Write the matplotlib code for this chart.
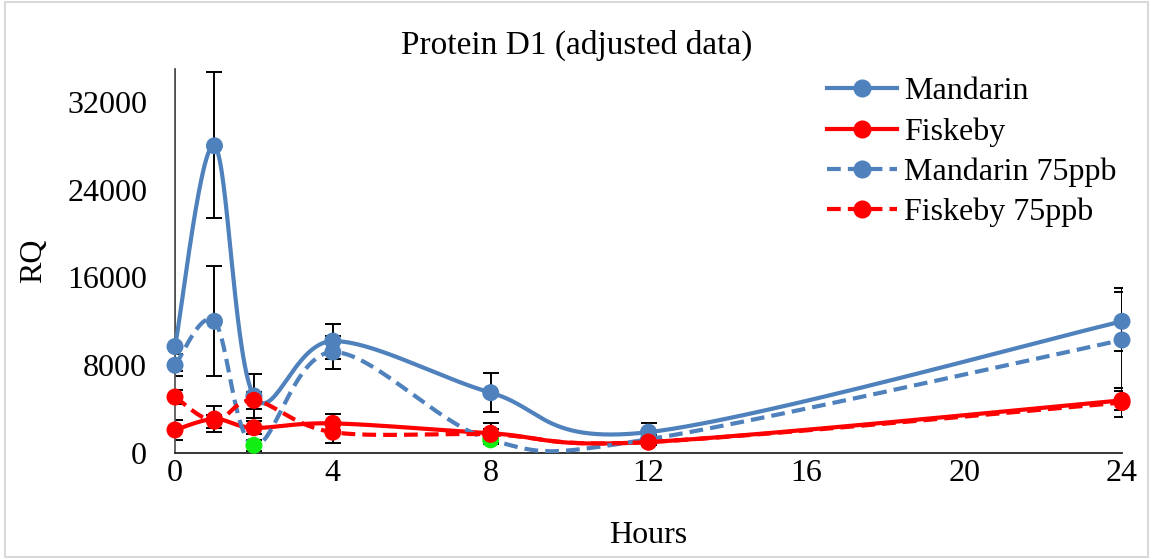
import numpy as np
import matplotlib.pyplot as plt
from matplotlib.lines import Line2D
from matplotlib.patches import Rectangle

plt.rcParams["font.family"] = ["Liberation Serif", "DejaVu Serif"]

hours = [0, 1, 2, 4, 8, 12, 24]

mandarin = [9700, 28000, 5200, 10200, 5500, 1900, 12000]
mandarin_err_low = [2200, 6600, 2000, 1600, 1800, 850, 2700]
mandarin_err_high = [30000, 6700, 2000, 1600, 1800, 850, 3000]

fiskeby = [2100, 3100, 2300, 2700, 1800, 1000, 4800]
fiskeby_err = [900, 1200, 600, 850, 900, 300, 850]

mandarin75 = [8000, 12000, 700, 9200, 1200, 1250, 10300]
mandarin75_err = [1000, 5000, 500, 1500, 400, 400, 4400]
mandarin75_green = [2, 4]  # points shown in green

fiskeby75 = [5100, 2900, 4800, 1900, 1700, 1000, 4600]
fiskeby75_err = [650, 600, 800, 950, 500, 300, 1300]

labels = ["Mandarin", "Fiskeby", "Mandarin 75ppb", "Fiskeby 75ppb"]
yticks = [0, 8000, 16000, 24000, 32000]
xticks = [0, 4, 8, 12, 16, 20, 24]

BLUE = "#4f81bd"
RED = "#ff0000"
GREEN = "#11ee11"
FS = 23
LW = 3.0
DASH = (3.3, 1.7)


def smooth(x, y, n=60):
    # excel-like smoothed line (catmull-rom as bezier)
    pts = np.column_stack([x, y]).astype(float)
    p = np.vstack([pts[0], pts, pts[-1]])
    t = np.linspace(0, 1, n)[:, None]
    out = []
    for i in range(1, len(p) - 2):
        p0, p1, p2, p3 = p[i - 1], p[i], p[i + 1], p[i + 2]
        c1 = p1 + (p2 - p0) / 6
        c2 = p2 - (p3 - p1) / 6
        out.append((1 - t) ** 3 * p1 + 3 * (1 - t) ** 2 * t * c1
                   + 3 * (1 - t) * t ** 2 * c2 + t ** 3 * p2)
    out = np.vstack(out)
    return out[:, 0], out[:, 1]


fig = plt.figure(figsize=(11.53, 5.59), dpi=100)
ax = fig.add_axes([175 / 1153, 1 - 453 / 559, 947 / 1153, 384 / 559])

# error bars
err_kw = dict(fmt="none", ecolor="black", elinewidth=1.4, capsize=5.5, capthick=1.4, zorder=2)
ax.errorbar(hours, mandarin, yerr=[mandarin_err_low, mandarin_err_high], **err_kw)
ax.errorbar(hours, fiskeby, yerr=fiskeby_err, **err_kw)
ax.errorbar(hours, mandarin75, yerr=mandarin75_err, **err_kw)
ax.errorbar(hours, fiskeby75, yerr=fiskeby75_err, **err_kw)

series = [
    (mandarin, BLUE, "-", []),
    (fiskeby, RED, "-", []),
    (mandarin75, BLUE, "--", mandarin75_green),
    (fiskeby75, RED, "--", []),
]
handles = []
for k, (vals, col, ls, greens) in enumerate(series):
    sx, sy = smooth(hours, vals)
    line, = ax.plot(sx, sy, color=col, lw=LW, ls=ls, zorder=3 + k)
    if ls == "--":
        line.set_dashes(DASH)
    cols = [GREEN if i in greens else col for i in range(len(vals))]
    ax.scatter(hours, vals, s=150, c=cols, zorder=3 + k + 0.5, clip_on=False, linewidths=0)
    h = Line2D([], [], color=col, lw=LW, ls=ls, marker="o", ms=12)
    if ls == "--":
        h.set_dashes(DASH)
    handles.append(h)

ax.set_xlim(0, 24)
ax.set_ylim(0, 35000)
ax.set_xticks(xticks)
ax.set_yticks(yticks)
ax.tick_params(axis="both", length=0, labelsize=FS)
ax.tick_params(axis="y", pad=20)
ax.tick_params(axis="x", pad=4)
for side in ["top", "right"]:
    ax.spines[side].set_visible(False)
ax.spines["left"].set_color("#595959")
ax.spines["bottom"].set_color("#262626")
ax.spines["left"].set_linewidth(1.3)
ax.spines["bottom"].set_linewidth(1.3)

ax.set_xlabel("Hours", fontsize=FS, labelpad=24)
ax.set_ylabel("RQ", fontsize=FS, labelpad=14)
fig.text(0.5, 1 - 45 / 559, "Protein D1 (adjusted data)", fontsize=FS + 1, ha="center", va="center")

ax.legend(handles, labels, loc="upper left", bbox_to_anchor=(827 / 1153, 1 - 77 / 559),
          bbox_transform=fig.transFigure, frameon=False, fontsize=FS, borderpad=0,
          borderaxespad=0, handlelength=2.2, handletextpad=0.2, labelspacing=0.34)

fig.patches.append(Rectangle((0.004, 0.004), 0.992, 0.992, transform=fig.transFigure,
                             fill=False, edgecolor="#d9d9d9", lw=1.5))

fig.savefig("out.png", dpi=100)
